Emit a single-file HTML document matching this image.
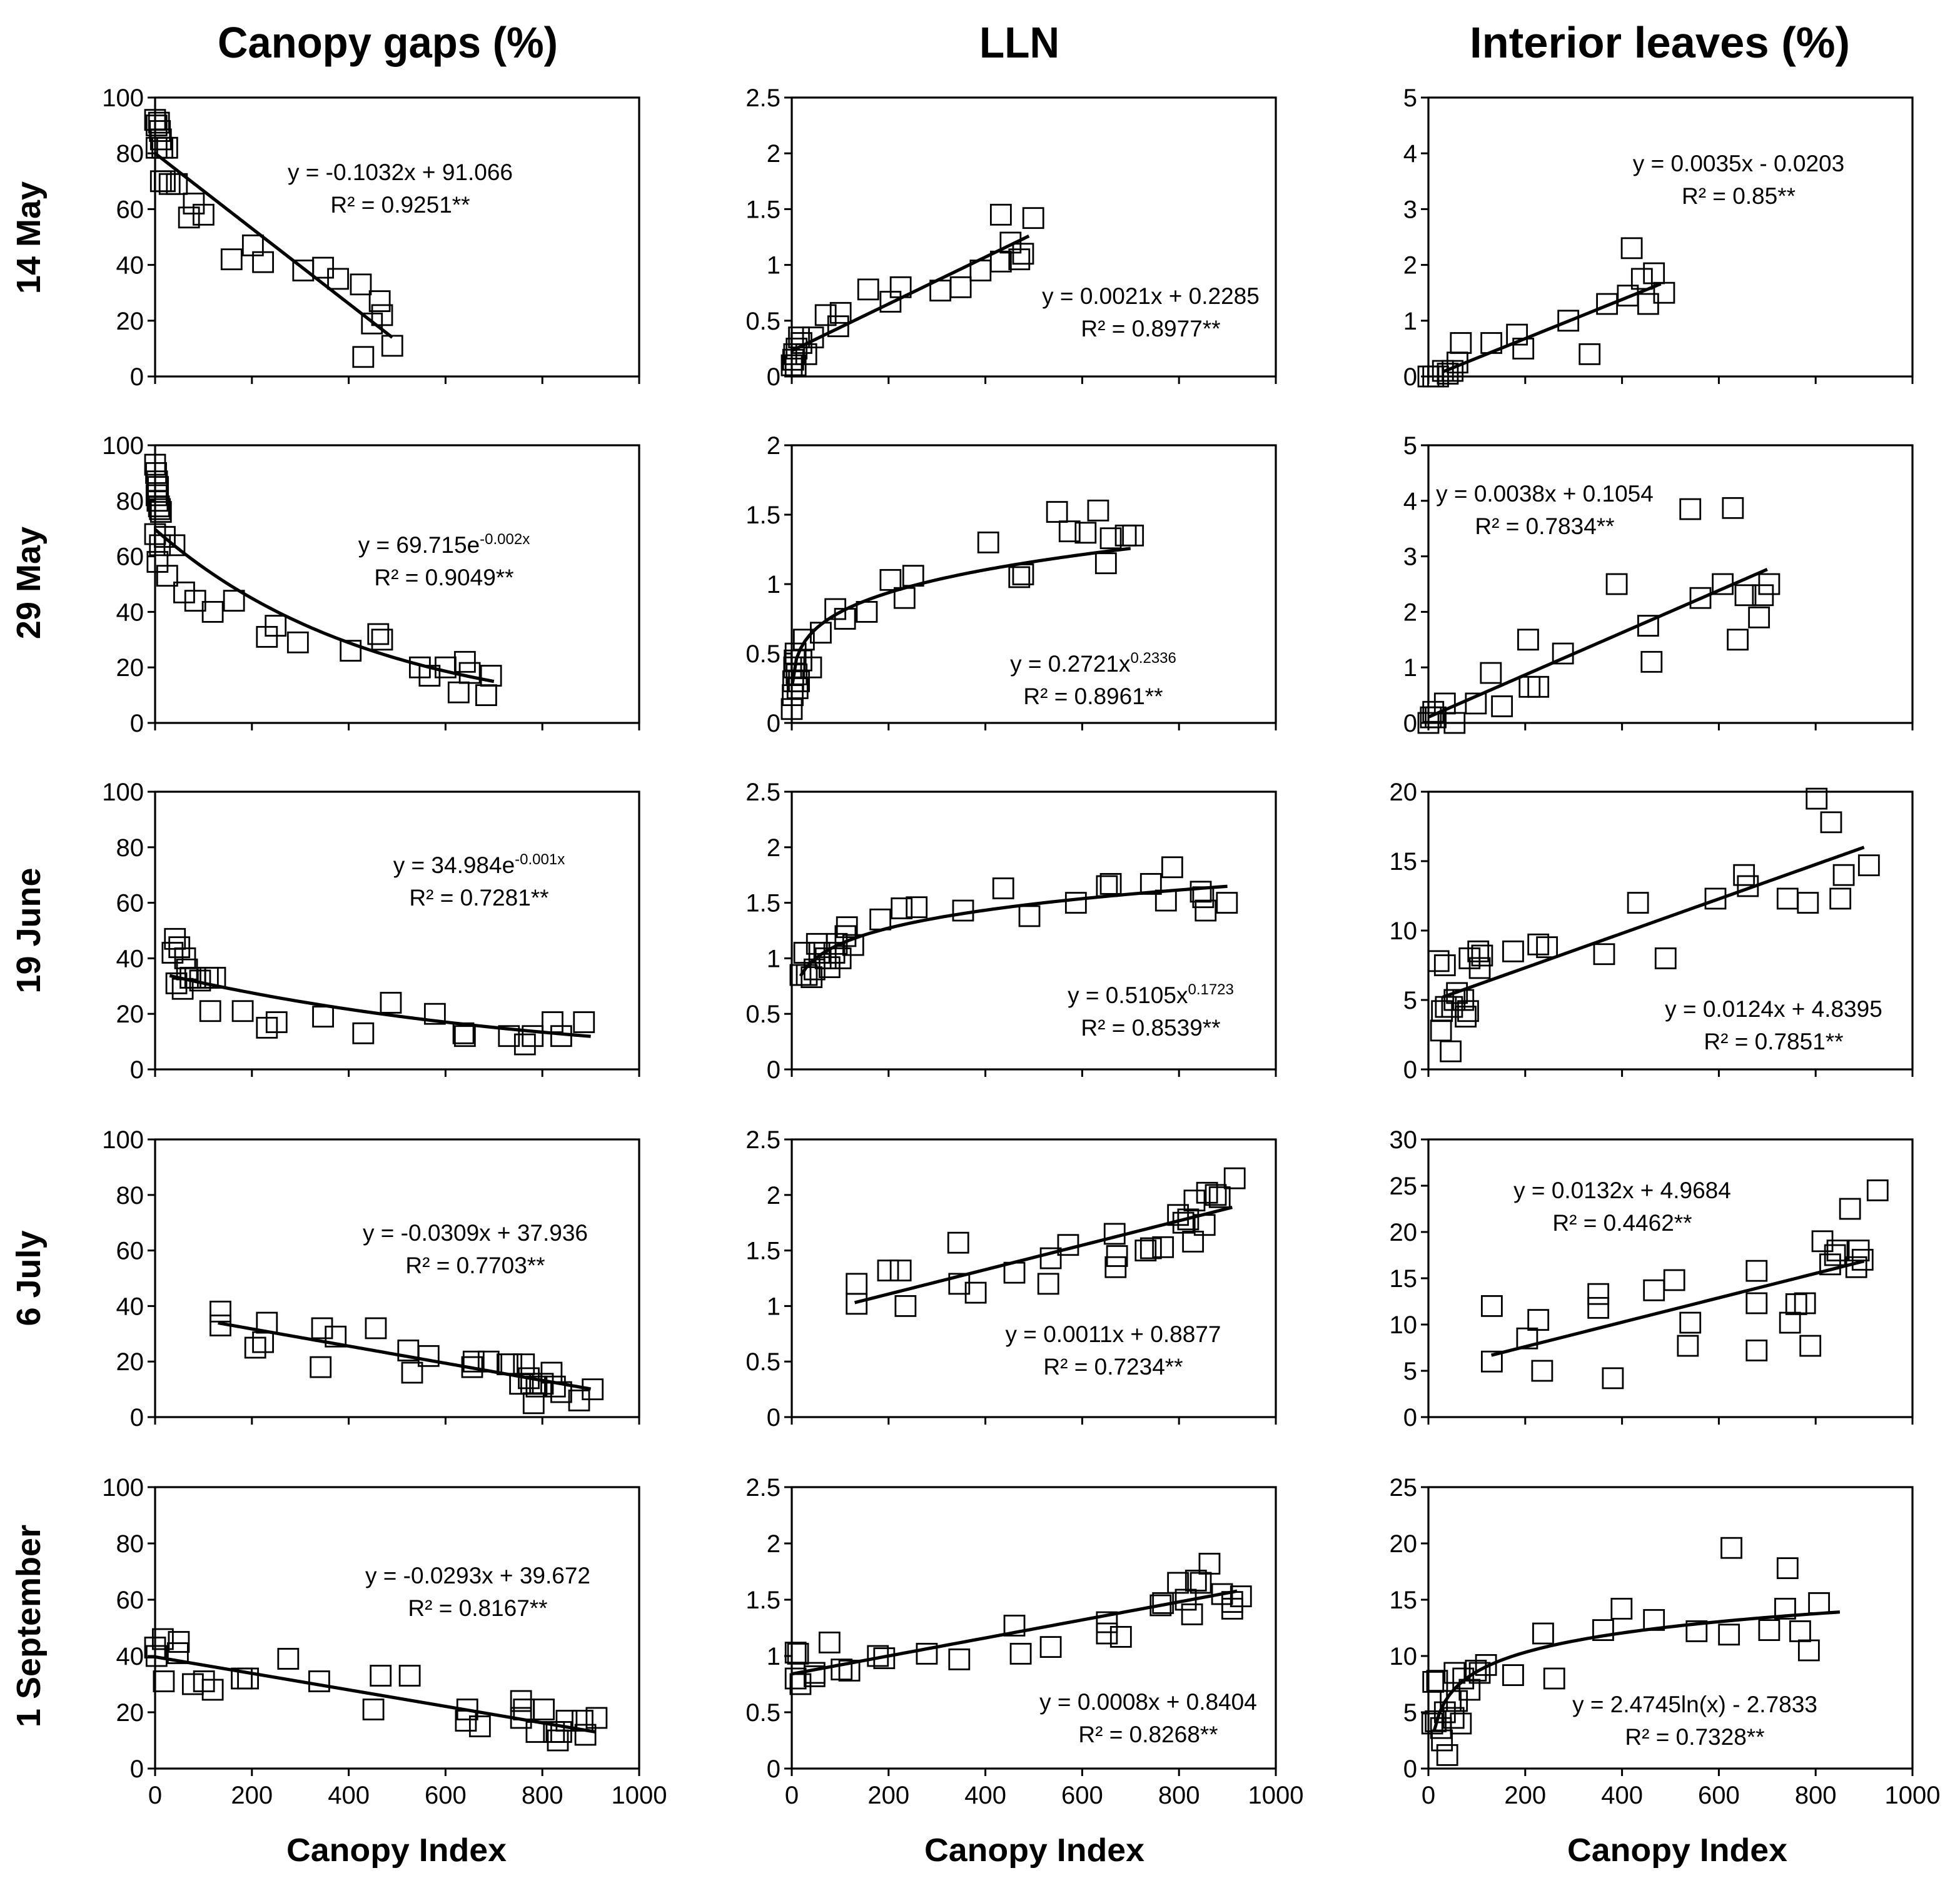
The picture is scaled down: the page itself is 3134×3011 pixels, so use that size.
<!DOCTYPE html>
<html><head><meta charset="utf-8">
<style>
html,body{margin:0;padding:0;background:#fff;}
svg{display:block;}
text{font-family:"Liberation Sans",sans-serif;fill:#000;}
</style></head>
<body>
<svg id="chart" xmlns="http://www.w3.org/2000/svg" width="3134" height="3011" viewBox="0 0 1567 1505.5">
<g id="titles">
<text x="310" y="46" text-anchor="middle" font-size="35" font-weight="bold" textLength="272" lengthAdjust="spacingAndGlyphs">Canopy gaps (%)</text>
<text x="815" y="46" text-anchor="middle" font-size="35" font-weight="bold" textLength="64" lengthAdjust="spacingAndGlyphs">LLN</text>
<text x="1327" y="46" text-anchor="middle" font-size="35" font-weight="bold" textLength="304" lengthAdjust="spacingAndGlyphs">Interior leaves (%)</text>
<text transform="translate(32,190) rotate(-90)" text-anchor="middle" font-size="27" font-weight="bold">14 May</text>
<text transform="translate(32,466) rotate(-90)" text-anchor="middle" font-size="27" font-weight="bold">29 May</text>
<text transform="translate(32,744) rotate(-90)" text-anchor="middle" font-size="27" font-weight="bold">19 June</text>
<text transform="translate(32,1022) rotate(-90)" text-anchor="middle" font-size="27" font-weight="bold">6 July</text>
<text transform="translate(32,1300) rotate(-90)" text-anchor="middle" font-size="27" font-weight="bold">1 September</text>
<text x="317" y="1488" text-anchor="middle" font-size="26" font-weight="bold" textLength="176" lengthAdjust="spacingAndGlyphs">Canopy Index</text>
<text x="827" y="1488" text-anchor="middle" font-size="26" font-weight="bold" textLength="176" lengthAdjust="spacingAndGlyphs">Canopy Index</text>
<text x="1341" y="1488" text-anchor="middle" font-size="26" font-weight="bold" textLength="176" lengthAdjust="spacingAndGlyphs">Canopy Index</text>
</g>
</svg>
<script>
// ---- data ----
const xTicks = [0,200,400,600,800,1000];
const gapTicks = [0,20,40,60,80,100];
const lln25Ticks = [0,0.5,1,1.5,2,2.5];
const lln2Ticks = [0,0.5,1,1.5,2];
const int5Ticks = [0,1,2,3,4,5];
const int20Ticks = [0,5,10,15,20];
const int30Ticks = [0,5,10,15,20,25,30];
const int25Ticks = [0,5,10,15,20,25];

const p11X=[0,3,8,10,12,3,15,25,12,20,30,45,70,80,100,158,202,223,306,347,378,425,430,448,464,469,490];
const p11Y=[92,90,91,88,85,82,82,82,70,70,69,69,57,62,58,42,47,41,38,39,35,33,7,19,27,22,11];
const p12X=[0,3,5,8,10,15,20,30,44,70,96,101,158,204,225,307,349,390,432,432,452,470,478,499];
const p12Y=[0.1,0.15,0.2,0.1,0.25,0.35,0.3,0.2,0.35,0.55,0.45,0.57,0.78,0.67,0.8,0.77,0.8,0.95,1.45,1.03,1.2,1.05,1.1,1.42];
const p13X=[0,10,20,30,40,50,60,67,130,183,196,289,333,369,412,420,441,454,466,487];
const p13Y=[0,0,0,0.1,0.05,0.1,0.25,0.6,0.6,0.75,0.5,1.0,0.4,1.3,1.45,2.3,1.75,1.3,1.85,1.5];
const p21X=[0,2,4,6,3,5,8,10,12,0,5,10,20,25,40,60,83,119,163,231,249,295,404,461,469,547,567,600,627,640,650,684,694];
const p21Y=[93,90,87,85,82,80,78,77,76,68,58,64,67,53,64,47,44,40,44,31,35,29,26,32,30,20,17,20,11,22,18,10,17];
const p22X=[0,2,3,5,6,8,10,12,15,20,25,40,60,90,110,155,204,233,251,406,470,478,548,574,607,633,649,659,690,705];
const p22Y=[0.1,0.2,0.3,0.4,0.45,0.5,0.35,0.25,0.3,0.45,0.6,0.4,0.65,0.82,0.75,0.8,1.03,0.9,1.06,1.3,1.05,1.07,1.52,1.38,1.37,1.53,1.15,1.33,1.35,1.35];
const p23X=[0,5,10,15,34,54,98,129,152,209,206,227,278,389,454,461,541,562,608,629,639,655,683,691,704];
const p23Y=[0,0.1,0.2,0.1,0.35,0,0.35,0.9,0.3,0.65,1.5,0.65,1.25,2.5,1.75,1.1,3.85,2.25,2.5,3.87,1.5,2.3,1.9,2.3,2.5];
const p31X=[36,41,44,50,57,62,66,73,83,93,109,124,114,181,231,251,347,430,487,578,637,640,731,764,780,821,839,886];
const p31Y=[42,47,31,44,29,40,36,33,33,32,33,33,21,21,15,17,19,13,24,20,13,12,12,9,12,17,12,17];
const p32X=[18,26,31,41,47,52,57,70,78,88,93,101,111,114,127,183,227,258,354,437,491,587,651,659,742,786,773,845,850,855,899];
const p32Y=[0.85,1.05,0.85,0.83,0.9,1.13,1.05,1.0,0.92,1.05,1.13,1.0,1.2,1.28,1.12,1.35,1.45,1.46,1.43,1.63,1.38,1.5,1.65,1.67,1.67,1.82,1.52,1.6,1.55,1.43,1.5];
const p33X=[21,26,28,34,36,46,49,54,59,72,77,82,85,103,106,111,175,227,245,363,433,490,593,652,660,742,784,802,832,851,858,910];
const p33Y=[7.8,2.8,4.2,7.5,4.5,1.3,4.5,5,5.5,5,3.8,4.2,8,8.5,7.3,8.2,8.5,9,8.8,8.3,12,8,12.3,14,13.2,12.3,12,19.5,17.8,12.3,14,14.7];
const p41X=[135,135,207,223,231,342,345,373,456,523,531,565,655,658,689,728,736,754,762,772,777,788,782,801,819,826,839,876,904];
const p41Y=[38,33,25,27,34,18,32,29,32,24,16,22,18,20,20,19,19,12,19,14,12,11,5,12,16,11,9,6,10];
const p42X=[134,134,199,225,235,344,346,380,460,530,535,571,667,669,672,731,742,767,798,809,819,829,832,853,858,876,884,915];
const p42Y=[1.02,1.2,1.32,1.32,1.0,1.57,1.2,1.12,1.3,1.2,1.43,1.55,1.65,1.35,1.45,1.5,1.52,1.53,1.82,1.75,1.78,1.58,1.95,1.73,2.02,2.0,1.98,2.15];
const p43X=[131,131,204,227,235,351,351,381,466,508,536,541,678,678,678,747,760,778,789,814,830,840,845,871,884,889,897,928];
const p43Y=[12,6,8.5,10.5,5,13.3,11.8,4.2,13.7,14.8,7.7,10.2,15.8,12.3,7.2,10.2,12.2,12.3,7.7,19,16.5,17.5,18,22.5,16.2,18,17,24.5];
const p51X=[0,3,16,18,47,49,78,101,119,179,192,275,339,451,466,526,642,645,671,756,756,762,788,803,824,832,839,850,883,889,912];
const p51Y=[43,40,46,31,41,45,30,31,28,32,32,39,31,21,33,33,17,21,15,18,24,21,13,21,13,10,13,17,17,12,18];
const p52X=[8,8,13,18,47,47,78,103,119,178,191,279,346,460,473,535,651,651,680,762,767,798,814,827,835,845,863,889,910,910,928];
const p52Y=[0.8,1.03,1.02,0.75,0.85,0.82,1.12,0.88,0.87,1.0,0.98,1.02,0.97,1.27,1.02,1.08,1.3,1.2,1.17,1.45,1.47,1.65,1.5,1.37,1.67,1.65,1.82,1.55,1.48,1.42,1.53];
const p53X=[8,10,15,18,26,28,34,39,46,52,54,59,67,72,85,98,106,119,175,237,260,361,399,466,554,621,626,704,737,742,768,786,807];
const p53Y=[4,7.7,4.2,7.8,3.6,2.5,5,1.2,6,4.5,8.5,6,4,8,7,8.7,8.5,9.2,8.3,12,8,12.3,14.2,13.2,12.2,11.9,19.6,12.3,14.2,17.8,12.2,10.5,14.7];

// trend-line parameters per panel (row-major)
const fitType=['lin','lin','lin','exp','pow','lin','exp','pow','lin','lin','lin','lin','lin','lin','log'];
const fitA=[-0.1347,0.0021,0.0035,69.7,0.2721,0.0038,35,0.5105,0.0124,-0.0309,0.0011,0.0132,-0.0293,0.0008,2.4745];
const fitB=[80,0.23,-0.0203,-0.0022,0.2336,0.1054,-0.0012,0.1723,4.8395,37.936,0.8877,4.9684,39.672,0.8404,-2.7833];
const fitX0=[0,0,30,0,1,0,30,18,30,130,130,130,0,0,12];
const fitX1=[490,490,480,700,700,700,900,900,900,900,910,900,910,920,850];
const eqLine1=[
 ['y = -0.1032x + 91.066'],['y = 0.0021x + 0.2285'],['y = 0.0035x - 0.0203'],
 ['y = 69.715e','-0.002x'],['y = 0.2721x','0.2336'],['y = 0.0038x + 0.1054'],
 ['y = 34.984e','-0.001x'],['y = 0.5105x','0.1723'],['y = 0.0124x + 4.8395'],
 ['y = -0.0309x + 37.936'],['y = 0.0011x + 0.8877'],['y = 0.0132x + 4.9684'],
 ['y = -0.0293x + 39.672'],['y = 0.0008x + 0.8404'],['y = 2.4745ln(x) - 2.7833']];
const eqR2=['0.9251**','0.8977**','0.85**','0.9049**','0.8961**','0.7834**','0.7281**','0.8539**','0.7851**','0.7703**','0.7234**','0.4462**','0.8167**','0.8268**','0.7328**'];
const eqCX=[320,920,1390,355,874,1235,383,920,1418,380,890,1297,382,918,1355];
const eqCY=[138,237,131,436,531,395,692,796,807,986,1067,952,1260,1361,1363];

// ---- layout ----
const colL=[124,633,1142], plotW=387;
const rowT=[78,356,633,911,1189], rowH=[223,222,222,222,225];
const colNames=['canopy-gaps','lln','interior-leaves'];
const rowNames=['14-may','29-may','19-june','6-july','1-september'];
const tickSets=[[gapTicks,lln25Ticks,int5Ticks],[gapTicks,lln2Ticks,int5Ticks],[gapTicks,lln25Ticks,int20Ticks],[gapTicks,lln25Ticks,int30Ticks],[gapTicks,lln25Ticks,int25Ticks]];
const dataX=[[p11X,p12X,p13X],[p21X,p22X,p23X],[p31X,p32X,p33X],[p41X,p42X,p43X],[p51X,p52X,p53X]];
const dataY=[[p11Y,p12Y,p13Y],[p21Y,p22Y,p23Y],[p31Y,p32Y,p33Y],[p41Y,p42Y,p43Y],[p51Y,p52Y,p53Y]];

const NS='http://www.w3.org/2000/svg';
const svg=document.getElementById('chart');
function mk(tag,attrs,parent){const e=document.createElementNS(NS,tag);for(const k in attrs)e.setAttribute(k,attrs[k]);parent.appendChild(e);return e;}
function fmt(v){return String(v);}

for(let r=0;r<5;r++){for(let c=0;c<3;c++){
  const idx=r*3+c;
  const L=colL[c],T=rowT[r],H=rowH[r],B=T+H;
  const ticks=tickSets[r][c], ymax=ticks[ticks.length-1];
  const sx=v=>L+v/1000*plotW;
  const sy=v=>B-v/ymax*H;
  const g=mk('g',{},svg);
  
  
  const box=mk('rect',{x:L,y:T,width:plotW,height:H,fill:'none',stroke:'#000','stroke-width':1.6},g);
  
  
  ticks.forEach(t=>{
    const y=sy(t);
    const tk=mk('line',{x1:L-6,x2:L,y1:y,y2:y,stroke:'#000','stroke-width':1.5},g);
    
    
    const tl=mk('text',{x:L-9,y:y+7,'text-anchor':'end','font-size':20},g);
    tl.textContent=fmt(t);
    
    
  });
  xTicks.forEach(t=>{
    const x=sx(t);
    const tk=mk('line',{x1:x,x2:x,y1:B,y2:B+6,stroke:'#000','stroke-width':1.5},g);
    
    
    if(r===4){
      const tl=mk('text',{x:x,y:B+28,'text-anchor':'middle','font-size':20},g);
      tl.textContent=fmt(t);
      
      
    }
  });
  const xs=dataX[r][c], ys=dataY[r][c];
  xs.forEach((xv,i)=>{
    const m=mk('rect',{x:sx(xv)-8,y:sy(ys[i])-8,width:16,height:16,fill:'none',stroke:'#000','stroke-width':1.4},g);
    
    
  });
  const a=fitA[idx],b=fitB[idx],t=fitType[idx];
  const f=x=>t==='lin'?a*x+b:t==='exp'?a*Math.exp(b*x):t==='pow'?a*Math.pow(x,b):a*Math.log(x)+b;
  let pts=[];const n=80;
  for(let k=0;k<=n;k++){const x=fitX0[idx]+(fitX1[idx]-fitX0[idx])*k/n;pts.push(sx(x).toFixed(2)+','+sy(f(x)).toFixed(2));}
  const pl=mk('polyline',{points:pts.join(' '),fill:'none',stroke:'#000','stroke-width':2.6},g);
  
  
  const e1=mk('text',{x:eqCX[idx],y:eqCY[idx]+6,'text-anchor':'middle','font-size':18.5},g);
  
  
  const eq=eqLine1[idx];
  const s1=mk('tspan',{},e1);s1.textContent=eq[0];
  if(eq.length>1){const s2=mk('tspan',{'font-size':12,dy:-7},e1);s2.textContent=eq[1];}
  const e2=mk('text',{x:eqCX[idx],y:eqCY[idx]+32,'text-anchor':'middle','font-size':18.5},g);
  
  
  e2.textContent='R² = '+eqR2[idx];
}}
</script>
</body></html>
